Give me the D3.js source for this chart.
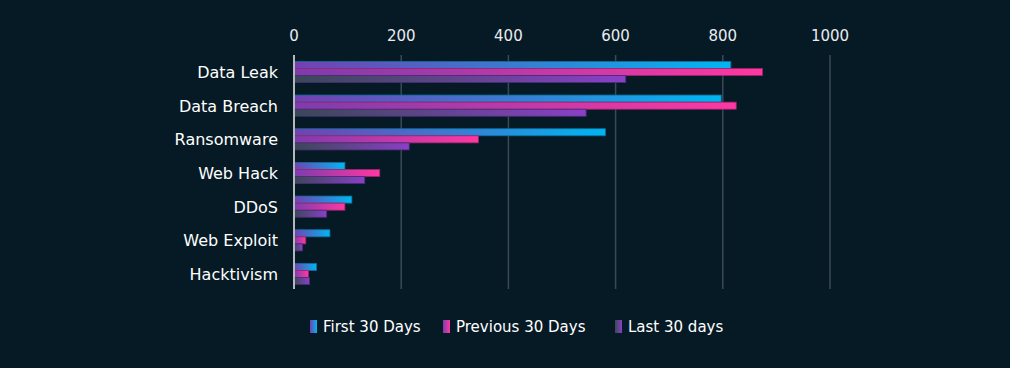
<!DOCTYPE html>
<html>
<head>
<meta charset="utf-8">
<script src="https://d3js.org/d3.v7.min.js"></script>
<style>
  body { margin: 0; background: #061a25; }
  svg { display: block; }
  text { font-family: "Century Gothic", "DejaVu Sans", sans-serif; }
</style>
</head>
<body>
<svg id="chart" width="1010" height="368"></svg>
<script>
  var categories = ["Data Leak", "Data Breach", "Ransomware", "Web Hack", "DDoS", "Web Exploit", "Hacktivism"]
  var series = ["First 30 Days", "Previous 30 Days", "Last 30 days"]
  var first30 = [815, 797, 581, 95, 108, 67, 42]
  var previous30 = [874, 825, 344, 160, 95, 22, 27]
  var last30 = [619, 545, 215, 132, 61, 16, 29]
  var ticks = [0, 200, 400, 600, 800, 1000]

  var values = [first30, previous30, last30]
  // gradient stops per series: left -> right
  var grads = [["#7440b2", "#00b6f2"], ["#7c3cae", "#ff38a2"], ["#3a4858", "#8a40c6"]]
  var strokes = ["#0b6f9a", "#a0236a", "#4a2a78"]

  var svg = d3.select("#chart")
  var margin = {top: 55, right: 180, bottom: 78, left: 294}
  var width = 1010, height = 368

  var x = d3.scaleLinear()
      .domain([0, 1000])
      .range([margin.left, 830])

  var y = d3.scaleBand()
      .domain(categories)
      .range([margin.top, 291])
      .paddingInner(0.37)
      .paddingOuter(0.19)

  var ySub = d3.scaleBand()
      .domain(d3.range(series.length))
      .range([0, y.bandwidth()])

  var defs = svg.append("defs")
  grads.forEach(function (g, i) {
    var lg = defs.append("linearGradient")
        .attr("id", "grad" + i)
        .attr("x1", 0).attr("x2", 1).attr("y1", 0).attr("y2", 0)
    lg.append("stop").attr("offset", "0%").attr("stop-color", g[0])
    lg.append("stop").attr("offset", "100%").attr("stop-color", g[1])
  })

  // gridlines
  svg.append("g")
      .selectAll("line")
      .data(ticks.slice(1))
      .join("line")
      .attr("x1", d => x(d)).attr("x2", d => x(d))
      .attr("y1", 55).attr("y2", 289)
      .attr("stroke", "#3a4a55")
      .attr("stroke-width", 1.5)

  // top tick labels
  svg.append("g")
      .selectAll("text")
      .data(ticks)
      .join("text")
      .attr("x", d => x(d))
      .attr("y", 41)
      .attr("text-anchor", "middle")
      .attr("fill", "#e8ecef")
      .style("font-size", "15px")
      .text(d => d)

  // bars
  var groups = svg.append("g")
      .selectAll("g")
      .data(categories)
      .join("g")
      .attr("transform", d => `translate(0,${y(d)})`)

  groups.selectAll("rect")
      .data((d, ci) => values.map((v, si) => ({s: si, v: v[ci]})))
      .join("rect")
      .attr("x", x(0))
      .attr("y", d => ySub(d.s))
      .attr("width", d => x(d.v) - x(0))
      .attr("height", ySub.bandwidth())
      .attr("fill", d => `url(#grad${d.s})`)
      .attr("stroke", d => strokes[d.s])
      .attr("stroke-width", 0.8)

  // zero axis line
  svg.append("line")
      .attr("x1", x(0)).attr("x2", x(0))
      .attr("y1", 55).attr("y2", 289)
      .attr("stroke", "#b4b8bc")
      .attr("stroke-width", 2)

  // category labels
  svg.append("g")
      .selectAll("text")
      .data(categories)
      .join("text")
      .attr("x", 278)
      .attr("y", d => y(d) + y.bandwidth() / 2 + 6)
      .attr("text-anchor", "end")
      .attr("fill", "#ffffff")
      .style("font-size", "16px")
      .text(d => d)

  // legend
  var legendX = [310, 443, 615]
  var legend = svg.append("g")
      .selectAll("g")
      .data(series)
      .join("g")
      .attr("transform", (d, i) => `translate(${legendX[i]},320)`)

  legend.append("rect")
      .attr("width", 7).attr("height", 13)
      .attr("fill", (d, i) => `url(#grad${i})`)

  legend.append("text")
      .attr("x", 13)
      .attr("y", 12)
      .attr("fill", "#ffffff")
      .style("font-size", "15px")
      .text(d => d)
</script>
</body>
</html>
